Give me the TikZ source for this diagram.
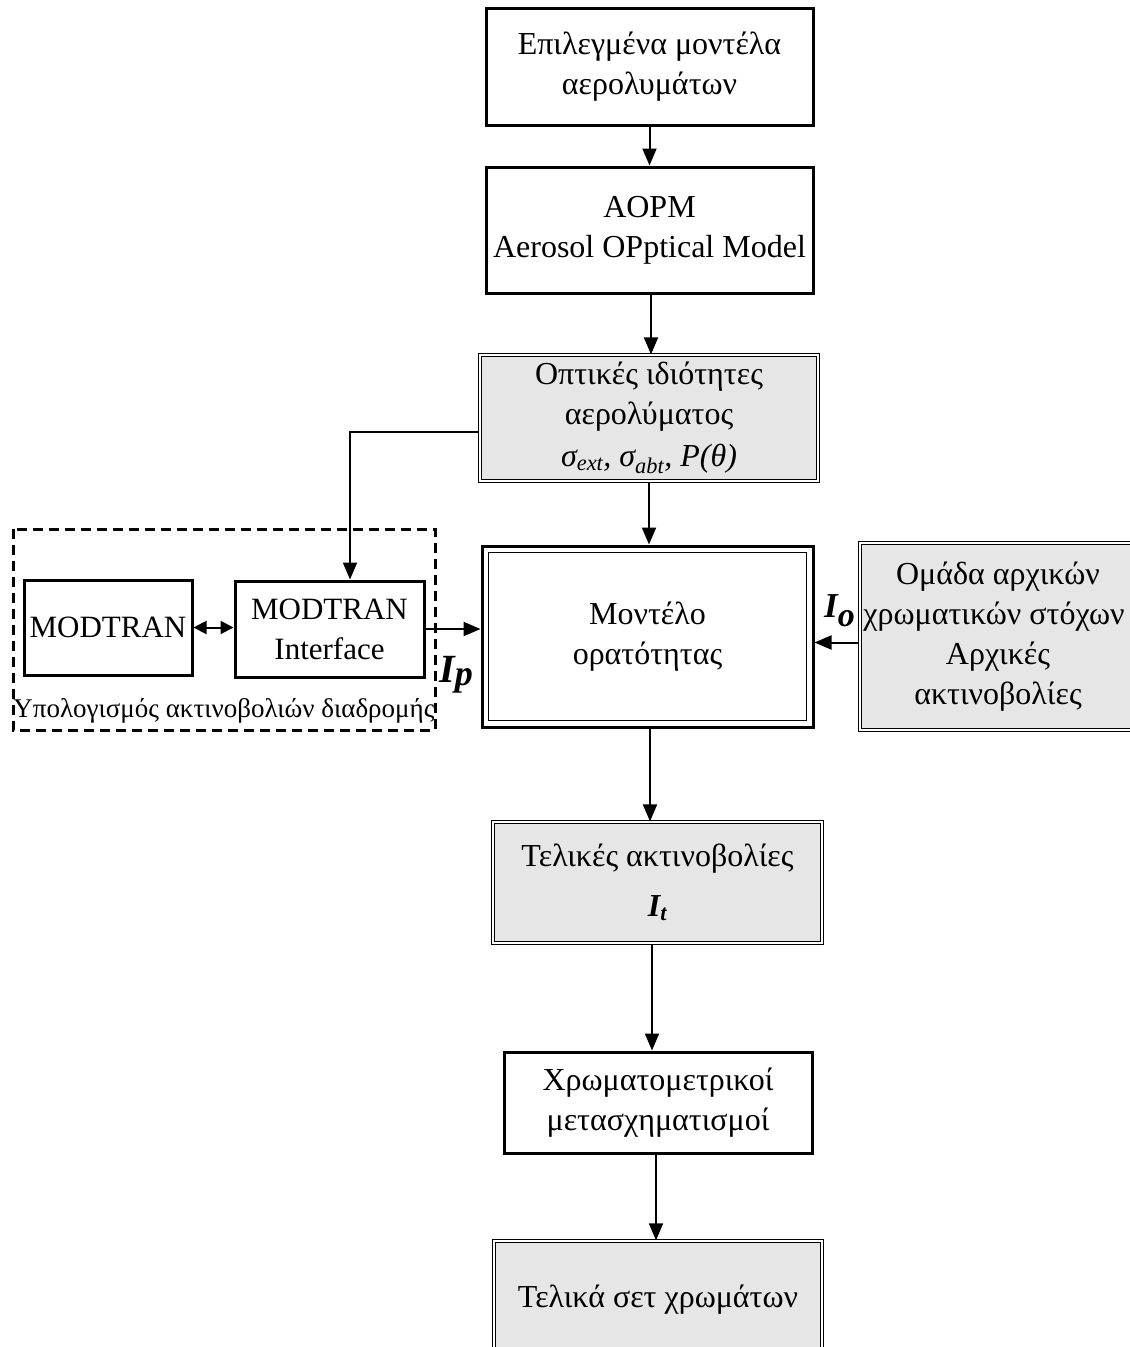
\documentclass[tikz,border=0pt]{standalone}
\usepackage{fontspec}
\setmainfont{Liberation Serif}
\usetikzlibrary{arrows.meta}
\definecolor{boxgrey}{HTML}{E6E6E6}
\tikzset{
  txt/.style={font=\fontsize{32}{40}\selectfont, align=center, inner sep=0pt},
  plainbox/.style={txt, draw, line width=3pt},
  greybox/.style={txt, draw, fill=boxgrey, line width=1.2pt, double=white, double distance=2.5pt},
  arr/.style={line width=2pt, -{Triangle[length=17pt,width=14pt]}},
  darr/.style={line width=2pt, {Triangle[length=13pt,width=13pt]}-{Triangle[length=13pt,width=13pt]}},
  lab/.style={inner sep=0pt, anchor=base west, font=\bfseries\itshape}
}
\begin{document}
\begin{tikzpicture}[x=1pt,y=-1pt]
\useasboundingbox (0,0) rectangle (1130,1347);
\clip (0,0) rectangle (1130,1347);
\fill[white] (0,0) rectangle (1130,1347);

\node[plainbox, minimum width=327pt, minimum height=117pt] (top) at (649.5,66.5)
  {Επιλεγμένα μοντέλα\\αερολυμάτων};
\node[plainbox, minimum width=327pt, minimum height=126pt] (aopm) at (649.5,230)
  {AOPM\\Aerosol OPptical Model};
\node[greybox, minimum width=338pt, minimum height=126pt] (opt) at (649,418)
  {Οπτικές ιδιότητες\\αερολύματος\\[2pt]{\itshape σ\textsubscript{ext}, σ\textsubscript{abt}, P(θ)}};
\node[plainbox, minimum width=331pt, minimum height=181pt] (model) at (647.5,636.5)
  {Μοντέλο\\ορατότητας};
\draw[line width=1pt] ([xshift=8pt,yshift=-8pt]model.north west) rectangle ([xshift=-8pt,yshift=8pt]model.south east);
\node[greybox, minimum width=276pt, minimum height=187pt] (io) at (998,636.5)
  {\hspace*{-8pt}Ομάδα αρχικών\hspace*{-8pt}\\\hspace*{-8pt}χρωματικών στόχων\hspace*{-8pt}\\Αρχικές\\ακτινοβολίες};
\node[greybox, minimum width=329pt, minimum height=121pt] (tel) at (657.5,882.5)
  {Τελικές ακτινοβολίες\\[10pt]{\bfseries\itshape I\textsubscript{t}}};
\node[plainbox, minimum width=308pt, minimum height=101pt] (chrom) at (658,1102.5)
  {Χρωματομετρικοί\\μετασχηματισμοί};
\node[greybox, minimum width=328pt, minimum height=118pt] (fin) at (658,1300)
  {Τελικά σετ χρωμάτων};

\node[plainbox, font=\fontsize{31}{40}\selectfont, minimum width=168pt, minimum height=95pt] (modtran) at (108,627.5)
  {MODTRAN};
\node[plainbox, font=\fontsize{31}{40}\selectfont, minimum width=189pt, minimum height=96pt] (iface) at (329.5,629)
  {MODTRAN\\Interface};
\draw[line width=3pt, dash pattern=on 10pt off 6pt] (13,529) rectangle (435,730);
\node[inner sep=0pt, font=\fontsize{27}{27}\selectfont] (dlab) at (224,711)
  {Υπολογισμός ακτινοβολιών διαδρομής};

\node[lab] (ip) at (439,682) {\fontsize{40}{40}\selectfont I\raisebox{-3pt}{\fontsize{36}{36}\selectfont p}};
\node[lab] (iolab) at (824,617) {\fontsize{35}{35}\selectfont I\raisebox{-9pt}{\fontsize{34}{34}\selectfont o}};

\draw[arr] (top.south) -- (top.south |- aopm.north);
\draw[arr] ([xshift=1.5pt]aopm.south) -- ([xshift=1.5pt]aopm.south |- opt.north);
\draw[arr] ([yshift=-14pt]opt.west) -| ([xshift=20.5pt]iface.north);
\draw[arr] (opt.south) -- (opt.south |- model.north);
\draw[arr] (iface.east) -- (iface.east -| model.west);
\draw[arr] ([yshift=-6pt]io.west) -- ([yshift=-6pt]model.east);
\draw[darr] (modtran.east) -- (modtran.east -| iface.west);
\draw[arr] ([xshift=2.5pt]model.south) -- ([xshift=2.5pt]model.south |- tel.north);
\draw[arr] ([xshift=-5.5pt]tel.south) -- ([xshift=-5.5pt]tel.south |- chrom.north);
\draw[arr] ([xshift=-2pt]chrom.south) -- ([xshift=-2pt]chrom.south |- fin.north);
\end{tikzpicture}
\end{document}
